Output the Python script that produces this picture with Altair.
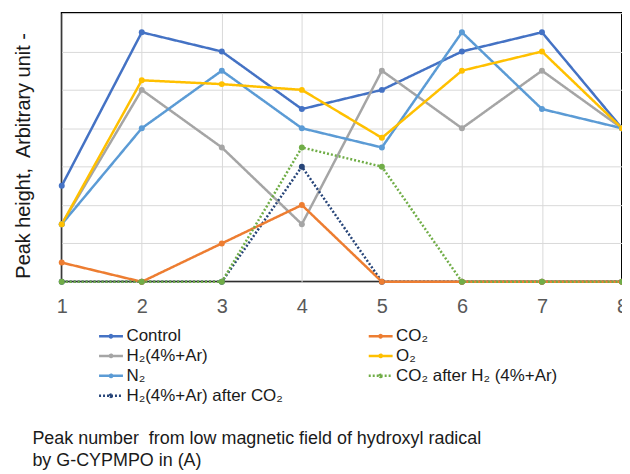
import altair as alt
import pandas as pd

peaks = [1, 2, 3, 4, 5, 6, 7, 8]

# legend fills column by column: left column first, then right column
series_names = [
    "Control",
    "H₂(4%+Ar)",
    "N₂",
    "H₂(4%+Ar) after CO₂",
    "CO₂",
    "O₂",
    "CO₂ after H₂ (4%+Ar)",
]
series_colors = ["#4472C4", "#A5A5A5", "#5B9BD5", "#264478", "#ED7D31", "#FFC000", "#70AD47"]
series_dash = [[1, 0], [1, 0], [1, 0], [2, 2], [1, 0], [1, 0], [2, 2]]

control = [2.5, 6.5, 6.0, 4.5, 5.0, 6.0, 6.5, 4.0]
h2 = [1.5, 5.0, 3.5, 1.5, 5.5, 4.0, 5.5, 4.0]
n2 = [1.5, 4.0, 5.5, 4.0, 3.5, 6.5, 4.5, 4.0]
h2_after_co2 = [0.0, 0.0, 0.0, 3.0, 0.0, 0.0, 0.0, 0.0]
co2 = [0.5, 0.0, 1.0, 2.0, 0.0, 0.0, 0.0, 0.0]
o2 = [1.5, 5.25, 5.15, 5.0, 3.75, 5.5, 6.0, 4.0]
co2_after_h2 = [0.0, 0.0, 0.0, 3.5, 3.0, 0.0, 0.0, 0.0]

values = [control, h2, n2, h2_after_co2, co2, o2, co2_after_h2]

rows = []
for name, vals in zip(series_names, values):
    for p, v in zip(peaks, vals):
        rows.append({"peak": p, "value": v, "series": name})
df = pd.DataFrame(rows)

FONT = "Liberation Sans"

legend_path = "M-2,0H2M-0.2,0A0.2,0.2,0,1,1,0.2,0A0.2,0.2,0,1,1,-0.2,0"

color_scale = alt.Scale(domain=series_names, range=series_colors)
dash_scale = alt.Scale(domain=series_names, range=series_dash)

legend = alt.Legend(
    title=None,
    orient="none",
    legendX=41,
    legendY=316,
    columns=2,
    columnPadding=80,
    rowPadding=2,
    symbolType=legend_path,
    symbolSize=144,
    symbolStrokeWidth=2.5,
    labelFont=FONT,
    labelFontSize=17,
    labelColor="#1a1a1a",
    labelOffset=7,
    labelLimit=400,
    padding=0,
)

chart = (
    alt.Chart(df)
    .mark_line(strokeWidth=2.5, point=alt.OverlayMarkDef(size=36, filled=True))
    .encode(
        x=alt.X(
            "peak:Q",
            scale=alt.Scale(domain=[1, 8], nice=False, zero=False),
            axis=alt.Axis(
                values=peaks,
                format="d",
                title=[
                    "Peak number\u00a0 from low magnetic field of hydroxyl radical",
                    "by G-CYPMPO in (A)",
                ],
                titleX=-30,
                titleY=162,
                titleAlign="left",
                titleBaseline="alphabetic",
                titleFont=FONT,
                titleFontSize=18,
                titleFontWeight="normal",
                titleColor="#1a1a1a",
                titleLineHeight=23,
                labelFont=FONT,
                labelFontSize=20,
                labelColor="#595959",
                labelPadding=15,
                labelFlush=False,
                ticks=False,
                domain=False,
                grid=True,
                gridColor="#D9D9D9",
                gridWidth=1,
            ),
        ),
        y=alt.Y(
            "value:Q",
            scale=alt.Scale(domain=[0, 7], nice=False),
            axis=alt.Axis(
                values=[0, 1, 2, 3, 4, 5, 6, 7],
                labels=False,
                ticks=False,
                domain=False,
                grid=True,
                gridColor="#D9D9D9",
                gridWidth=1,
                title="Peak height,\u00a0 Arbitrary unit -",
                titleX=-38,
                titleY=143,
                titleAngle=270,
                titleAlign="center",
                titleBaseline="middle",
                titleFont=FONT,
                titleFontSize=20,
                titleFontWeight="normal",
                titleColor="#1a1a1a",
            ),
        ),
        color=alt.Color("series:N", scale=color_scale, legend=legend, sort=series_names),
        strokeDash=alt.StrokeDash("series:N", scale=dash_scale, legend=legend, sort=series_names),
        order=alt.Order("peak:Q"),
    )
    .properties(
        width=563,
        height=270,
        autosize=alt.AutoSizeParams(type="none"),
        padding={"left": 54, "top": 4, "right": 0, "bottom": 190},
    )
    .configure_view(stroke="black", strokeWidth=2)
)

chart.save("out.html", embed_options={"renderer": "svg", "actions": False})
